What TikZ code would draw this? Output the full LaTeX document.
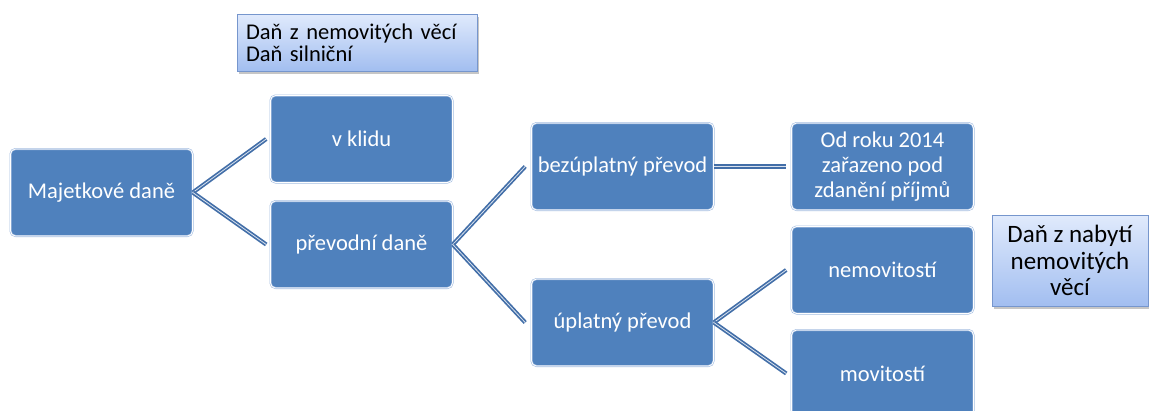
\documentclass[tikz,border=0pt]{standalone}
\usepackage{fontspec}
\setmainfont{Carlito}
\usetikzlibrary{shadows}
\definecolor{BoxBlue}{RGB}{79,129,189}
\definecolor{EdgeBlue}{RGB}{165,190,225}
\definecolor{LinkBlue}{RGB}{66,110,168}
\definecolor{NoteTop}{RGB}{224,234,252}
\definecolor{NoteBot}{RGB}{162,190,240}
\definecolor{NoteEdge}{RGB}{118,150,205}

\begin{document}
\begin{tikzpicture}[x=1pt,y=-1pt,
    taxbox/.style={rectangle,rounded corners=5pt,fill=BoxBlue,draw=EdgeBlue,
      double=white,double distance=0.8pt,line width=0.6pt,
      minimum width=182pt,minimum height=87pt,inner sep=2pt,
      text=white,align=center,font=\fontsize{22.5}{25}\selectfont},
    notebox/.style={rectangle,top color=NoteTop,bottom color=NoteBot,
      draw=NoteEdge,line width=0.8pt,
      drop shadow={opacity=0.45,shadow xshift=2pt,shadow yshift=-3pt}},
    link/.style={draw=LinkBlue,double=white!80!LinkBlue,double distance=0.8pt,line width=1.7pt}]
  \useasboundingbox (0,0) rectangle (1149,410);

  % notes
  \node[notebox,minimum width=240pt,minimum height=57pt,text width=222pt,inner xsep=9pt,
    align=left,font=\fontsize{22.5}{22}\selectfont] (noteA) at (357,42.5)
    {Daň z nemovitých věcí\\Daň silniční};
  \node[notebox,minimum width=156pt,minimum height=91pt,align=center,inner sep=1pt,
    font=\fontsize{25}{26.5}\selectfont] (noteB) at (1070,260.5)
    {Daň z nabytí\\nemovitých\\věcí};

  % boxes
  \node[taxbox] (majet) at (101.5,192.5) {Majetkové daně};
  \node[taxbox] (klid) at (361.5,139) {v klidu};
  \node[taxbox] (prevod) at (361.5,244.5) {převodní daně};
  \node[taxbox] (bezupl) at (622.5,166.5) {bezúplatný převod};
  \node[taxbox] (upl) at (622.5,322.5) {úplatný převod};
  \node[taxbox] (odroku) at (882.5,166.5) {Od roku 2014\\zařazeno pod\\zdanění příjmů};
  \node[taxbox] (nemov) at (882.5,270) {nemovitostí};
  \node[taxbox] (mov) at (882.5,373.5) {movitostí};

  % connectors
  \draw[link] (majet.east) -- ([xshift=-4pt]klid.west);
  \draw[link] (majet.east) -- ([xshift=-4pt]prevod.west);
  \draw[link] (prevod.east) -- ([xshift=-6pt]bezupl.west);
  \draw[link] (prevod.east) -- ([xshift=-6pt]upl.west);
  \draw[link] (bezupl.east) -- ([xshift=-5pt]odroku.west);
  \draw[link] (upl.east) -- ([xshift=-5pt]nemov.west);
  \draw[link] (upl.east) -- ([xshift=-5pt]mov.west);
\end{tikzpicture}
\end{document}
